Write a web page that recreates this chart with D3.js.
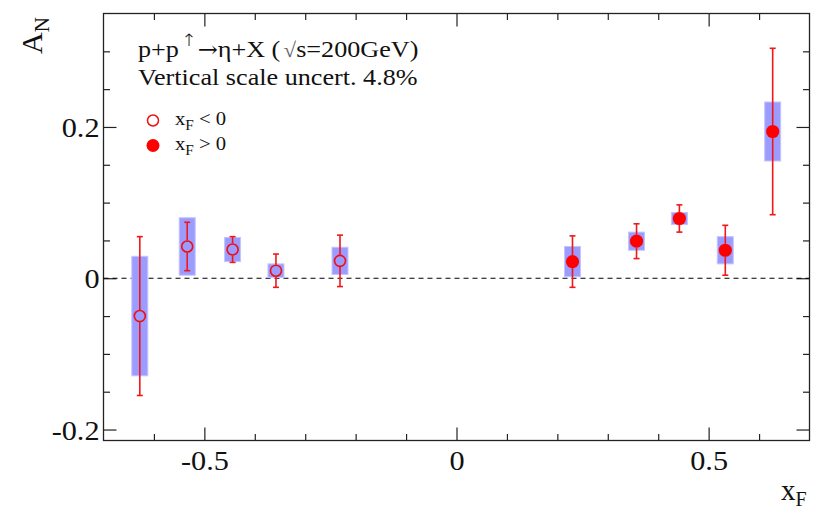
<!DOCTYPE html>
<html><head><meta charset="utf-8">
<script src="https://cdn.jsdelivr.net/npm/d3@7"></script>
<style>body{margin:0;background:#fff}svg{display:block}text{font-family:"Liberation Serif","Times New Roman",serif}</style>
</head><body><svg id="c" width="830" height="519"></svg>
<script>
// data
const xNeg = [-0.628, -0.534, -0.444, -0.358, -0.231];
const yNeg = [-0.050, 0.042, 0.038, 0.010, 0.023];
const statNeg = [0.105, 0.032, 0.017, 0.022, 0.034];
const sysNeg = [0.079, 0.038, 0.016, 0.009, 0.018];
const xPos = [0.230, 0.357, 0.442, 0.533, 0.627];
const yPos = [0.022, 0.049, 0.079, 0.037, 0.194];
const statPos = [0.034, 0.023, 0.018, 0.033, 0.110];
const sysPos = [0.020, 0.012, 0.008, 0.018, 0.039];
const xMajor = [-0.5, 0, 0.5];
const xMinor = [-0.6, -0.4, -0.3, -0.2, -0.1, 0.1, 0.2, 0.3, 0.4, 0.6];
const yMajor = [-0.2, 0, 0.2];
const yMinor = [-0.15, -0.1, -0.05, 0.05, 0.1, 0.15, 0.25, 0.3];
const legendLabels = ["< 0", "> 0"];

const svg = d3.select("#c");
const L = 103.5, R = 809.5, T = 13.5, B = 440.5;
const x = d3.scaleLinear().domain([-0.7, 0.7]).range([L, R]);
const y = d3.scaleLinear().domain([-0.2145, 0.35]).range([B, T]);
const fmt = d => String(d);
const axisCol = "#222";
const K = 1.08; // horizontal stretch of the reference serif font

function stretch(sel) {
  sel.each(function () {
    const w = this.getComputedTextLength();
    d3.select(this).attr("textLength", w * K).attr("lengthAdjust", "spacingAndGlyphs");
  });
}

function styleAxis(g, labels) {
  g.attr("font-family", null);
  g.select(".domain").remove();
  g.selectAll(".tick line").attr("stroke", axisCol).attr("stroke-width", 1.2);
  if (!labels) g.selectAll(".tick text").remove();
  else g.selectAll(".tick text").attr("font-size", 28).attr("fill", "#111").attr("font-family", "Liberation Serif");
}
// bottom
svg.append("g").attr("transform", `translate(0,${B})`)
  .call(d3.axisBottom(x).tickValues(xMajor).tickFormat(fmt).tickSize(-13).tickSizeOuter(0).tickPadding(10))
  .call(g => styleAxis(g, true))
  .call(g => stretch(g.selectAll(".tick text")));
svg.append("g").attr("transform", `translate(0,${B})`)
  .call(d3.axisBottom(x).tickValues(xMinor).tickSize(-6.5).tickSizeOuter(0)).call(g => styleAxis(g, false));
// top
svg.append("g").attr("transform", `translate(0,${T})`)
  .call(d3.axisTop(x).tickValues(xMajor).tickSize(-13).tickSizeOuter(0)).call(g => styleAxis(g, false));
svg.append("g").attr("transform", `translate(0,${T})`)
  .call(d3.axisTop(x).tickValues(xMinor).tickSize(-6.5).tickSizeOuter(0)).call(g => styleAxis(g, false));
// left
svg.append("g").attr("transform", `translate(${L},0)`)
  .call(d3.axisLeft(y).tickValues(yMajor).tickFormat(fmt).tickSize(-13).tickSizeOuter(0).tickPadding(4))
  .call(g => styleAxis(g, true))
  .call(g => g.selectAll(".tick text").attr("dy", "0.34em"))
  .call(g => stretch(g.selectAll(".tick text")));
svg.append("g").attr("transform", `translate(${L},0)`)
  .call(d3.axisLeft(y).tickValues(yMinor).tickSize(-6.5).tickSizeOuter(0)).call(g => styleAxis(g, false));
// right
svg.append("g").attr("transform", `translate(${R},0)`)
  .call(d3.axisRight(y).tickValues(yMajor).tickSize(-13).tickSizeOuter(0)).call(g => styleAxis(g, false));
svg.append("g").attr("transform", `translate(${R},0)`)
  .call(d3.axisRight(y).tickValues(yMinor).tickSize(-6.5).tickSizeOuter(0)).call(g => styleAxis(g, false));
// frame
svg.append("rect").attr("x", L).attr("y", T).attr("width", R - L).attr("height", B - T)
  .attr("fill", "none").attr("stroke", axisCol).attr("stroke-width", 1.3);

// zero line
svg.append("line").attr("x1", x(-0.7)).attr("x2", x(0.7)).attr("y1", y(0)).attr("y2", y(0))
  .attr("stroke", "#000").attr("stroke-width", 1.2).attr("stroke-dasharray", "5,4");

const neg = xNeg.map((v, i) => ({x: v, y: yNeg[i], s: statNeg[i], sy: sysNeg[i], open: true}));
const pos = xPos.map((v, i) => ({x: v, y: yPos[i], s: statPos[i], sy: sysPos[i], open: false}));
const all = neg.concat(pos);

// systematic boxes
svg.append("g").selectAll("rect").data(all).join("rect")
  .attr("x", d => x(d.x) - 8).attr("width", 16)
  .attr("y", d => y(d.y + d.sy)).attr("height", d => y(d.y - d.sy) - y(d.y + d.sy))
  .attr("fill", "#9c9cff").attr("stroke", "#c4c4ff").attr("stroke-width", 1);

// error bars
const eb = svg.append("g").attr("stroke", "#f01818").attr("stroke-width", 1.6);
all.forEach(d => {
  const r = d.open ? 6 : 6.5;
  const cx = x(d.x), cy = y(d.y), yt = y(d.y + d.s), yb = y(d.y - d.s);
  if (yt < cy - r) eb.append("line").attr("x1", cx).attr("x2", cx).attr("y1", yt).attr("y2", cy - r);
  if (yb > cy + r) eb.append("line").attr("x1", cx).attr("x2", cx).attr("y1", cy + r).attr("y2", yb);
  eb.append("line").attr("x1", cx - 3).attr("x2", cx + 3).attr("y1", yt).attr("y2", yt);
  eb.append("line").attr("x1", cx - 3).attr("x2", cx + 3).attr("y1", yb).attr("y2", yb);
});
// markers
svg.append("g").selectAll("circle").data(all).join("circle")
  .attr("cx", d => x(d.x)).attr("cy", d => y(d.y))
  .attr("r", d => d.open ? 5.5 : 6.6)
  .attr("fill", d => d.open ? "none" : "#ff0000")
  .attr("stroke", d => d.open ? "#ee1010" : "none").attr("stroke-width", 1.6);

// title text (stretched horizontally like the reference font)
const tg = svg.append("g").attr("transform", "translate(138,57) scale(1.09,1)");
const t1 = tg.append("text").attr("x", 0).attr("y", 0).attr("font-size", 24).attr("fill", "#111");
t1.append("tspan").text("p+p");
t1.append("tspan").attr("dx", 2).attr("dy", -11).attr("font-size", 17).attr("font-family", "DejaVu Sans").attr("font-weight", 300).text("↑");
t1.append("tspan").attr("dx", 1).attr("dy", 11).attr("font-family", "DejaVu Serif").attr("font-size", 22).text("→");
t1.append("tspan").text("η+X (");
t1.append("tspan").attr("dx", 3).attr("font-size", 21).attr("fill", "#666").text("√");
t1.append("tspan").text("s");
t1.append("tspan").text("=200GeV)");
const t2g = svg.append("g").attr("transform", "translate(138,85) scale(1.09,1)");
t2g.append("text").attr("font-size", 24).attr("fill", "#111").text("Vertical scale uncert. 4.8%");

// legend
svg.append("circle").attr("cx", 153).attr("cy", 120.5).attr("r", 5.5).attr("fill", "none")
  .attr("stroke", "#ee1010").attr("stroke-width", 1.5);
svg.append("circle").attr("cx", 153).attr("cy", 145.5).attr("r", 6.5).attr("fill", "#ff0000");
legendLabels.forEach((lab, i) => {
  const g = svg.append("g").attr("transform", `translate(175,${125 + i * 25}) scale(1.09,1)`);
  const t = g.append("text").attr("font-size", 19).attr("fill", "#111");
  t.append("tspan").text("x");
  t.append("tspan").attr("dy", 5).attr("font-size", 14).text("F");
  t.append("tspan").attr("dy", -5).text(" " + lab);
});

// axis titles
const ya = svg.append("text").attr("transform", "translate(42,54) rotate(-90)").attr("font-size", 30).attr("fill", "#111");
ya.append("tspan").text("A");
ya.append("tspan").attr("dy", 7).attr("font-size", 21).text("N");
const xa = svg.append("text").attr("x", 781).attr("y", 500).attr("font-size", 29).attr("fill", "#111");
xa.append("tspan").text("x");
xa.append("tspan").attr("dy", 6).attr("font-size", 20).text("F");
</script></body></html>
